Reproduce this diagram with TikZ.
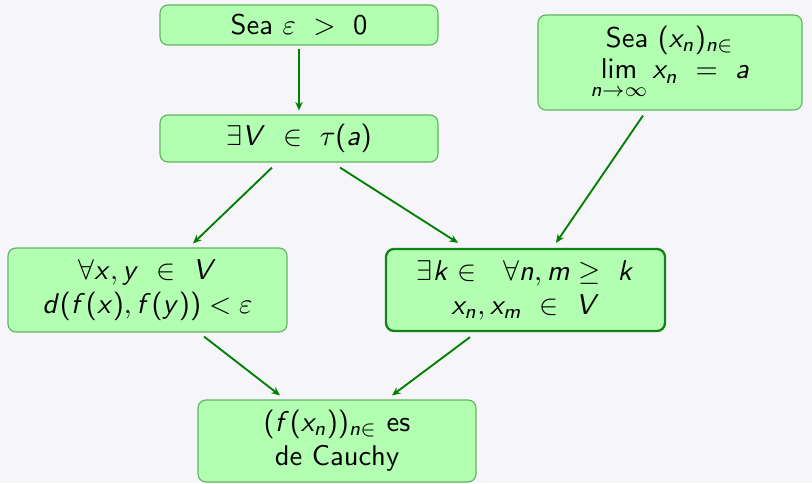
\documentclass[tikz,border=0pt]{standalone}
\usetikzlibrary{arrows.meta,calc}
\SetSymbolFont{operators}{normal}{OT1}{cmss}{m}{n}
\DeclareSymbolFont{sfletters}{OT1}{cmss}{m}{sl}
\DeclareMathSymbol{a}{\mathalpha}{sfletters}{`a}
\DeclareMathSymbol{d}{\mathalpha}{sfletters}{`d}
\DeclareMathSymbol{f}{\mathalpha}{sfletters}{`f}
\DeclareMathSymbol{k}{\mathalpha}{sfletters}{`k}
\DeclareMathSymbol{m}{\mathalpha}{sfletters}{`m}
\DeclareMathSymbol{n}{\mathalpha}{sfletters}{`n}
\DeclareMathSymbol{x}{\mathalpha}{sfletters}{`x}
\DeclareMathSymbol{y}{\mathalpha}{sfletters}{`y}
\DeclareMathSymbol{V}{\mathalpha}{sfletters}{`V}
\definecolor{bg}{RGB}{245,245,250}
\definecolor{boxfill}{RGB}{178,255,178}
\definecolor{boxline}{RGB}{95,180,95}
\definecolor{boxdark}{RGB}{20,130,20}
\definecolor{arrowc}{RGB}{0,128,0}
\begin{document}
\begin{tikzpicture}[x=0.35pt,y=-0.35pt,
  font=\sffamily,
  box/.style={draw=boxline, fill=boxfill, rounded corners=2.8pt, line width=0.4pt,
    align=center, inner sep=0pt, minimum width=97.3pt},
  hibox/.style={box, draw=boxdark, line width=0.8pt},
  arr/.style={draw=arrowc, line width=0.65pt, -{Stealth[length=3pt,width=2.6pt]}}]
\fill[bg] (0,0) rectangle (812,483);
\useasboundingbox (0,0) rectangle (812,483);

\node[box, minimum height=14pt] (b1) at (299,25) {Sea $\varepsilon\ >\ 0$};
\node[box, minimum height=16.45pt] (b2) at (299,138.5) {$\exists V\ \in\ \tau(a)$};
\node[box, minimum width=92.4pt, minimum height=33.25pt] (b3) at (670,62.5)
  {Sea $(x_n)_{n\in}$\\[-1pt] $\lim\limits_{n\to\infty} x_n\ =\ a$};
\node[box, minimum width=97.65pt, minimum height=29.4pt] (b4) at (147.5,290)
  {$\forall x,y\ \in\ V$\\ $d(f(x),f(y)) < \varepsilon$};
\node[hibox, minimum width=97.65pt, minimum height=28.7pt] (b5) at (525.5,290)
  {$\exists k\in\ \ \forall n,m\geq\ k$\\ $x_n,x_m\ \in\ V$};
\node[box, minimum height=28.7pt] (b6) at (337,441)
  {$(f(x_n))_{n\in}$ es\\ de Cauchy};

\draw[arr] ($(b1.south)+(0,3)$) -- ($(b2.north)+(0,-4)$);
\draw[arr] ($(b2.south)+(-27,5)$) -- ($(b4.north)+(45.5,-4)$);
\draw[arr] ($(b2.south)+(41,5)$) -- ($(b5.north)+(-67.5,-5)$);
\draw[arr] ($(b3.south)+(-27,5)$) -- ($(b5.north)+(30.5,-5)$);
\draw[arr] ($(b4.south)+(56.5,4)$) -- ($(b6.north)+(-57,-4)$);
\draw[arr] ($(b5.south)+(-55.5,5)$) -- ($(b6.north)+(55,-4)$);
\end{tikzpicture}
\end{document}
